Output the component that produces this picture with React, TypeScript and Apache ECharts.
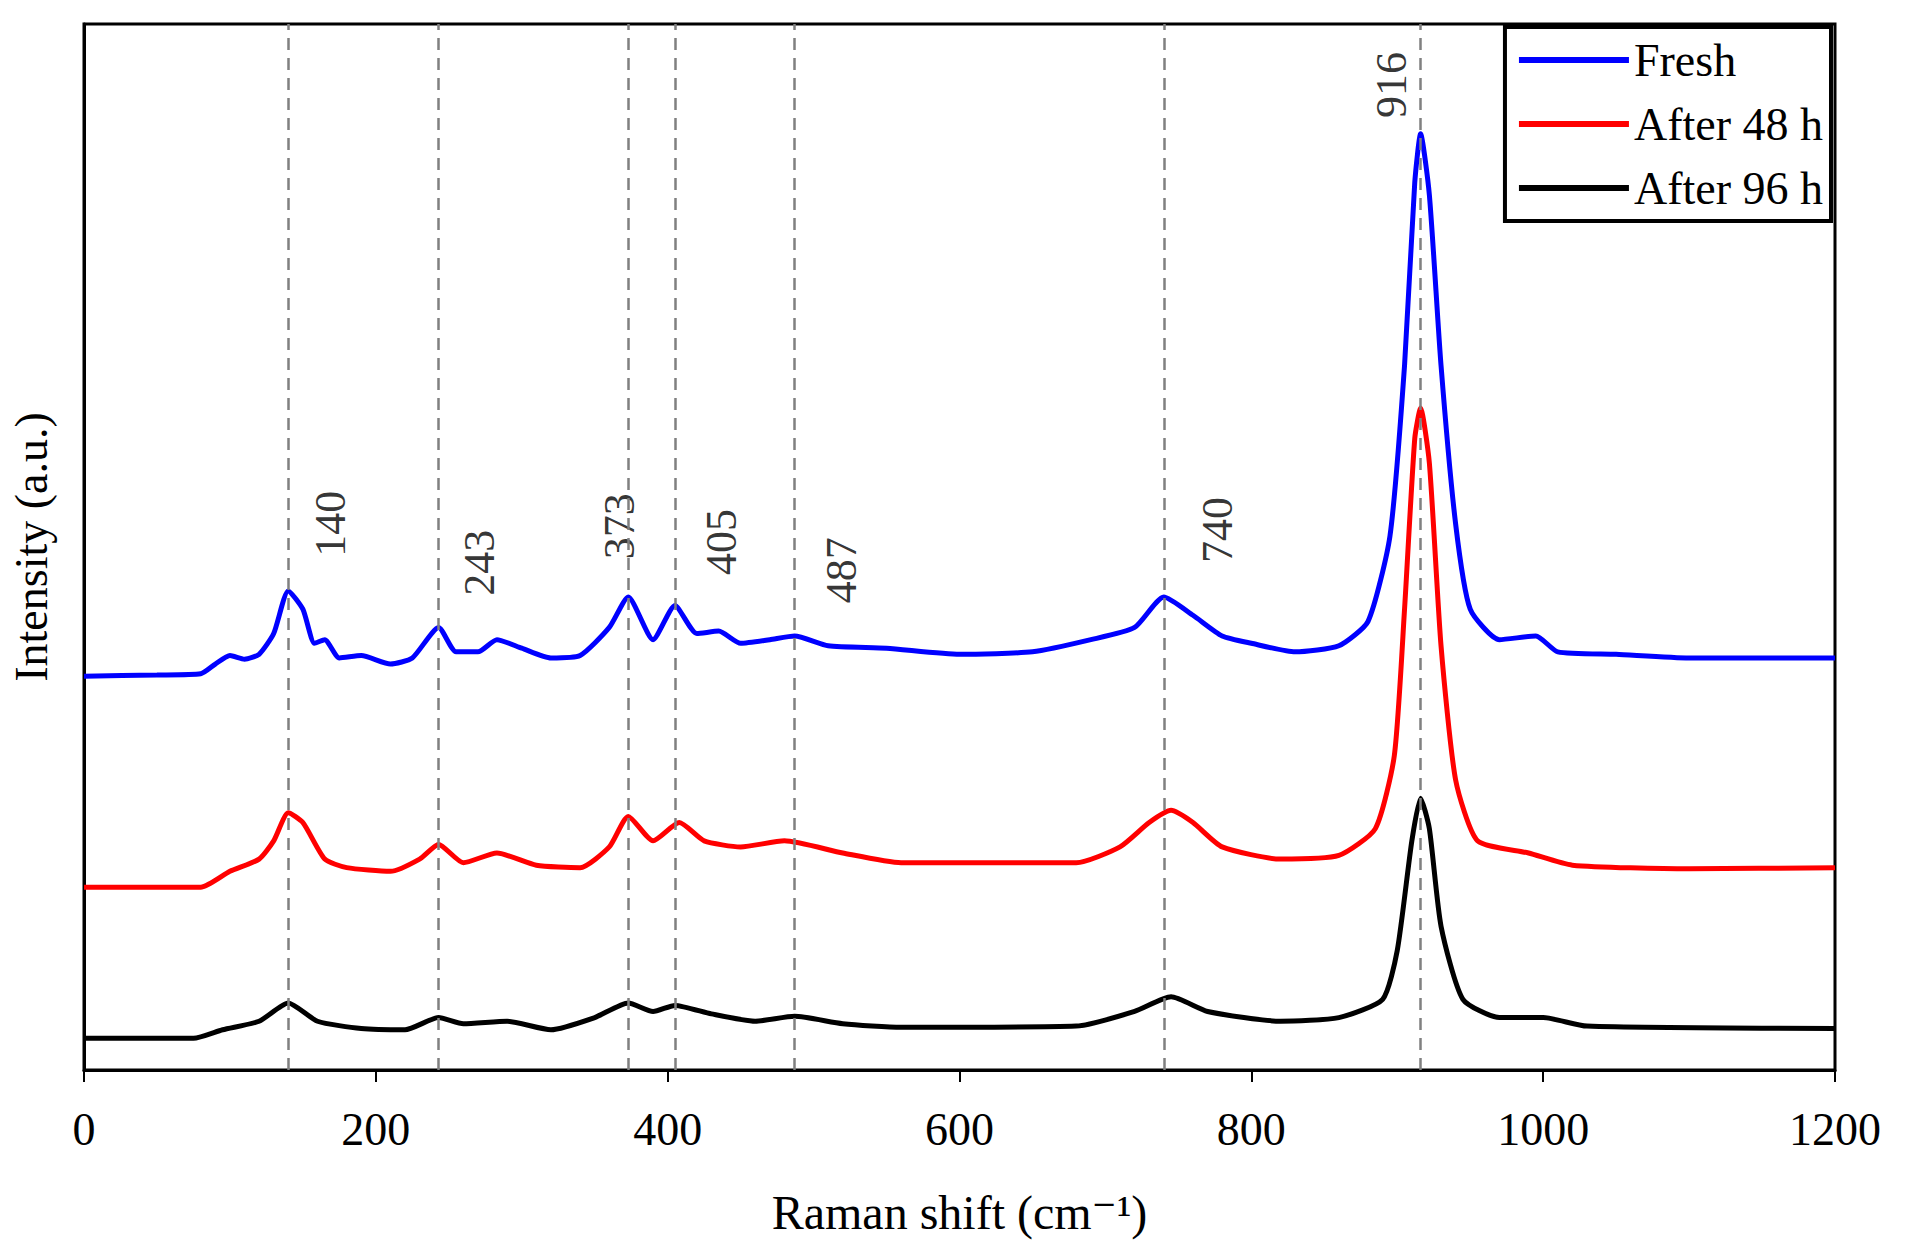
import React, { useEffect, useRef } from 'react';
import * as echarts from 'echarts';

// [Raman shift, relative intensity]
const fresh: number[][] = [
  [0, 323], [50, 324], [80, 325], [90, 333], [100, 340], [110, 337], [120, 341], [130, 358], [140, 393],
  [150, 378], [158, 350], [165, 353], [175, 338], [190, 340], [210, 333], [225, 338], [243, 363], [255, 343],
  [270, 343], [283, 353], [300, 346], [320, 338], [340, 340], [360, 363], [373, 388], [390, 353], [405, 381],
  [420, 358], [435, 360], [450, 350], [470, 353], [487, 356], [510, 348], [550, 346], [600, 341], [650, 343],
  [690, 353], [720, 363], [740, 388], [760, 373], [780, 356], [800, 350], [830, 343], [860, 348], [880, 368],
  [895, 438], [905, 578], [912, 728], [916, 768], [922, 718], [930, 578], [940, 448], [950, 378], [970, 353],
  [995, 356], [1010, 343], [1050, 341], [1100, 338], [1200, 338],
];
const after48: number[][] = [
  [0, 150], [80, 150], [100, 163], [120, 173], [130, 188], [140, 211], [150, 203], [165, 173], [180, 166],
  [210, 163], [230, 173], [243, 185], [260, 170], [283, 178], [310, 168], [340, 166], [360, 183], [373, 208],
  [390, 188], [408, 203], [425, 188], [450, 183], [480, 188], [520, 178], [560, 170], [680, 170], [710, 183],
  [730, 203], [745, 213], [760, 203], [780, 183], [820, 173], [860, 176], [885, 198], [898, 258], [905, 378],
  [912, 518], [916, 543], [922, 498], [930, 348], [940, 238], [955, 188], [990, 178], [1020, 168], [1100, 165],
  [1200, 166],
];
const after96: number[][] = [
  [0, 26], [75, 26], [95, 33], [120, 40], [140, 55], [160, 40], [190, 34], [220, 33], [243, 43], [260, 38],
  [290, 40], [320, 33], [350, 43], [373, 55], [390, 48], [405, 53], [430, 46], [460, 40], [487, 44], [520, 38],
  [560, 35], [680, 36], [720, 48], [745, 60], [770, 48], [820, 40], [860, 43], [890, 58], [900, 98], [910, 188],
  [916, 223], [922, 198], [930, 118], [945, 58], [970, 43], [1000, 43], [1030, 36], [1200, 34],
];
const peaks = [140, 243, 373, 405, 487, 740, 916];
// label anchor points [x, y, text]
const peakLabels: (number | string)[][] = [
  [169, 448, '140'], [271, 416, '243'], [367, 446, '373'], [437, 433, '405'],
  [519, 410, '487'], [777, 443, '740'], [896, 808, '916'],
];

const FONT = 'Liberation Serif, DejaVu Serif, serif';

const App = () => {
  const chartRef = useRef(null);

  useEffect(() => {
    if (chartRef.current) {
      const chart = echarts.init(chartRef.current, null, { renderer: 'svg' });
      const line = (name: string, data: number[][], color: string) => ({
        name, type: 'line', data, showSymbol: false, smooth: 0.2,
        lineStyle: { color, width: 5 }, itemStyle: { color },
      });
      const option = {
        animation: false,
        textStyle: { fontFamily: FONT },
        grid: { left: 75, right: 74, top: 24, bottom: 180, show: true, borderColor: '#000', borderWidth: 3 },
        legend: {
          orient: 'vertical', right: 78, top: 27, padding: [10, 8, 10, 14], itemGap: 18,
          backgroundColor: '#fff', borderColor: '#000', borderWidth: 4,
          icon: 'rect', itemWidth: 110, itemHeight: 6,
          textStyle: { fontFamily: FONT, fontSize: 46, color: '#000' },
          data: ['Fresh', 'After 48 h', 'After 96 h'],
        },
        xAxis: {
          type: 'value', min: 0, max: 1200, interval: 200,
          name: 'Raman shift (cm⁻¹)', nameLocation: 'middle', nameGap: 118,
          nameTextStyle: { fontFamily: FONT, fontSize: 48, color: '#000' },
          axisLine: { lineStyle: { color: '#000', width: 3 } },
          axisTick: { inside: false, length: 12, lineStyle: { color: '#000', width: 2 } },
          axisLabel: { fontFamily: FONT, fontSize: 46, color: '#000', margin: 36, formatter: (v: number) => String(v) },
          splitLine: { show: false },
        },
        yAxis: {
          type: 'value', min: 0, max: 858,
          name: 'Intensity (a.u.)', nameLocation: 'middle', nameGap: 30,
          nameTextStyle: { fontFamily: FONT, fontSize: 46, color: '#000' },
          axisLine: { show: true, lineStyle: { color: '#000', width: 3 } },
          axisTick: { show: false }, axisLabel: { show: false }, splitLine: { show: false },
        },
        series: [
          {
            ...line('Fresh', fresh, '#0000ff'),
            markLine: {
              silent: true, symbol: 'none', label: { show: false },
              lineStyle: { color: '#808080', type: [12, 8], width: 2.5 },
              data: peaks.map((p) => [{ coord: [p, 0] }, { coord: [p, 858] }]),
            },
          },
          line('After 48 h', after48, '#ff0000'),
          line('After 96 h', after96, '#000000'),
          {
            type: 'scatter', symbolSize: 0, silent: true,
            data: peakLabels.map((d) => ({ value: [d[0], d[1]], name: d[2] })),
            label: {
              show: true, position: 'inside', rotate: 90, formatter: '{b}',
              fontFamily: FONT, fontSize: 44, color: '#000',
            },
          },
        ],
      };
      chart.setOption(option);
      return () => chart.dispose();
    }
  }, []);

  return <div ref={chartRef} style={{ position: 'fixed', left: 0, top: 0, width: 1909, height: 1250, background: '#fff' }} />;
};

export default App;
